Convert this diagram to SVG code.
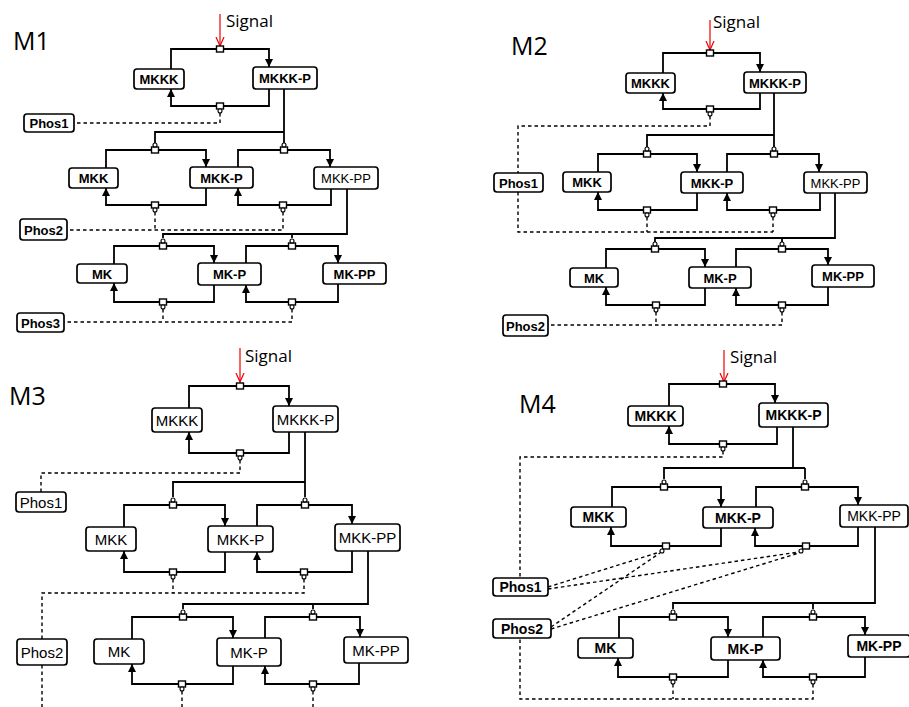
<svg xmlns="http://www.w3.org/2000/svg" width="909" height="707" viewBox="0 0 909 707">
<defs>
<style>
.box{fill:#fff;stroke:#000;stroke-width:1.7}
.lb{font-family:"Liberation Sans",Arial,sans-serif;font-size:13px;font-weight:bold;text-anchor:middle;fill:#000}
.lb3{font-family:"Liberation Sans",Arial,sans-serif;font-size:15px;text-anchor:middle;fill:#000}
.lb4{font-family:"Liberation Sans",Arial,sans-serif;font-size:14px;font-weight:bold;text-anchor:middle;fill:#000}
.nw{font-weight:normal}
.ttl{font-family:"Open Sans","Liberation Sans",sans-serif;font-size:25px;fill:#000}
.sg{font-family:"Open Sans","Liberation Sans",sans-serif;font-size:17px;fill:#000}
.ln{fill:none;stroke:#000;stroke-width:1.8}
.ar{fill:none;stroke:#000;stroke-width:1.8;marker-end:url(#ah)}
.ds{fill:none;stroke:#000;stroke-width:1.4;stroke-dasharray:3.5 3}
.sq{fill:#fff;stroke:#000;stroke-width:1.4}
.ci{fill:#fff;stroke:#000;stroke-width:1.1}
.red{stroke:#e00;stroke-width:1.2;fill:none;marker-end:url(#rh)}
</style>
<marker id="ah" markerUnits="userSpaceOnUse" markerWidth="8" markerHeight="8" refX="8" refY="4" orient="auto">
<path d="M0,0 L8,4 L0,8 z" fill="#000"/>
</marker>
<marker id="rh" markerUnits="userSpaceOnUse" markerWidth="10" markerHeight="10" refX="9" refY="5" orient="auto">
<path d="M0,1 L9,5 L0,9" fill="none" stroke="#e00" stroke-width="1.2"/>
</marker>
<rect id="s" class="sq" x="-3.5" y="-3" width="7" height="6"/>
<circle id="c" class="ci" r="2"/>
</defs>
<rect width="909" height="707" fill="#fff"/>

<!-- ===== M1 ===== -->
<g id="M1">
<text class="ttl" x="13" y="50">M1</text>
<text class="sg" x="226" y="27">Signal</text>
<g id="m1-connectors">
<line class="red" x1="220" y1="14" x2="220" y2="46"/>
<path class="ar" d="M171,69 V49 H269 V67"/>
<path class="ar" d="M269,89 V106 H171 V89"/>
<path class="ds" d="M220,113 V123 H74"/>
<path class="ln" d="M284,89 V143 M284,132 H155 V143"/>
<path class="ar" d="M106,168 V150 H206 V167"/>
<path class="ar" d="M238,167 V150 H330 V167"/>
<path class="ar" d="M206,188 V205 H106 V188"/>
<path class="ar" d="M331,189 V205 H238 V188"/>
<path class="ds" d="M155,212 V230 M283,212 V230 H67"/>
<path class="ln" d="M347,189 V234 H163 V238 M292,234 V238"/>
<path class="ar" d="M114,264 V246 H214 V263"/>
<path class="ar" d="M246,263 V246 H338 V263"/>
<path class="ar" d="M214,285 V302 H114 V283"/>
<path class="ar" d="M338,284 V302 H246 V285"/>
<path class="ds" d="M163,309 V322 M292,309 V322 H64"/>
<use href="#s" x="220" y="49"/>
<use href="#s" x="220" y="106"/><use href="#c" x="220" y="111"/>
<use href="#s" x="155" y="150"/><use href="#c" x="155" y="145"/>
<use href="#s" x="284" y="150"/><use href="#c" x="284" y="145"/>
<use href="#s" x="155" y="205"/><use href="#c" x="155" y="210"/>
<use href="#s" x="283" y="205"/><use href="#c" x="283" y="210"/>
<use href="#s" x="163" y="246"/><use href="#c" x="163" y="241"/>
<use href="#s" x="292" y="246"/><use href="#c" x="292" y="241"/>
<use href="#s" x="163" y="302"/><use href="#c" x="163" y="307"/>
<use href="#s" x="292" y="302"/><use href="#c" x="292" y="307"/>
</g>
<g id="m1-mkkk"><rect class="box" x="134" y="69" width="50" height="20" rx="3"/><text class="lb" x="159" y="84">MKKK</text></g>
<g id="m1-mkkkp"><rect class="box" x="253" y="67" width="64" height="22" rx="3"/><text class="lb" x="285" y="83">MKKK-P</text></g>
<g id="m1-phos1"><rect class="box" x="24" y="114" width="50" height="18" rx="3"/><text class="lb" x="49" y="128">Phos1</text></g>
<g id="m1-mkk"><rect class="box" x="69" y="168" width="49" height="20" rx="3"/><text class="lb" x="93.5" y="183">MKK</text></g>
<g id="m1-mkkp"><rect class="box" x="190" y="167" width="63" height="21" rx="3"/><text class="lb" x="221.5" y="182.5">MKK-P</text></g>
<g id="m1-mkkpp"><rect class="box" x="314" y="167" width="64" height="22" rx="3"/><text class="lb nw" x="346" y="183">MKK-PP</text></g>
<g id="m1-phos2"><rect class="box" x="20" y="219" width="47" height="21" rx="3"/><text class="lb" x="43.5" y="234.5">Phos2</text></g>
<g id="m1-mk"><rect class="box" x="77" y="264" width="50" height="19" rx="3"/><text class="lb" x="102" y="278.5">MK</text></g>
<g id="m1-mkp"><rect class="box" x="198" y="263" width="63" height="22" rx="3"/><text class="lb" x="229.5" y="279">MK-P</text></g>
<g id="m1-mkpp"><rect class="box" x="323" y="263" width="63" height="21" rx="3"/><text class="lb" x="354.5" y="278.5">MK-PP</text></g>
<g id="m1-phos3"><rect class="box" x="17" y="313" width="47" height="19" rx="3"/><text class="lb" x="40.5" y="327.5">Phos3</text></g>
</g>

<!-- ===== M2 ===== -->
<g id="M2">
<text class="ttl" x="511" y="55">M2</text>
<text class="sg" x="713" y="28">Signal</text>
<g id="m2-connectors">
<line class="red" x1="710" y1="20" x2="710" y2="50"/>
<path class="ar" d="M663,73 V53 H760 V72"/>
<path class="ar" d="M760,93 V109 H663 V93"/>
<path class="ds" d="M710,116 V126 H518 V173 M518,192 V232 H773 M647,217 V232 M773,217 V232"/>
<path class="ln" d="M774,93 V147 M774,135 H647 V147"/>
<path class="ar" d="M598,172 V154 H697 V172"/>
<path class="ar" d="M727,172 V154 H819 V172"/>
<path class="ar" d="M697,193 V210 H598 V192"/>
<path class="ar" d="M820,193 V210 H727 V193"/>
<path class="ln" d="M835,193 V238 H655 V242 M782,238 V242"/>
<path class="ar" d="M606,268 V249 H705 V267"/>
<path class="ar" d="M736,267 V249 H828 V265"/>
<path class="ar" d="M705,288 V305 H606 V287"/>
<path class="ar" d="M828,287 V305 H736 V288"/>
<path class="ds" d="M656,312 V325 M782,312 V325 H548"/>
<use href="#s" x="710" y="53"/>
<use href="#s" x="710" y="109"/><use href="#c" x="710" y="114"/>
<use href="#s" x="647" y="154"/><use href="#c" x="647" y="149"/>
<use href="#s" x="774" y="154"/><use href="#c" x="774" y="149"/>
<use href="#s" x="647" y="210"/><use href="#c" x="647" y="215"/>
<use href="#s" x="773" y="210"/><use href="#c" x="773" y="215"/>
<use href="#s" x="655" y="249"/><use href="#c" x="655" y="244"/>
<use href="#s" x="782" y="249"/><use href="#c" x="782" y="244"/>
<use href="#s" x="656" y="305"/><use href="#c" x="656" y="310"/>
<use href="#s" x="782" y="305"/><use href="#c" x="782" y="310"/>
</g>
<g id="m2-mkkk"><rect class="box" x="626" y="73" width="49" height="20" rx="3"/><text class="lb" x="650.5" y="88">MKKK</text></g>
<g id="m2-mkkkp"><rect class="box" x="744" y="72" width="62" height="21" rx="3"/><text class="lb" x="775" y="87.5">MKKK-P</text></g>
<g id="m2-phos1"><rect class="box" x="494" y="173" width="49" height="19" rx="3"/><text class="lb" x="518.5" y="187.5">Phos1</text></g>
<g id="m2-mkk"><rect class="box" x="563" y="172" width="48" height="20" rx="3"/><text class="lb" x="587" y="187">MKK</text></g>
<g id="m2-mkkp"><rect class="box" x="681" y="172" width="62" height="21" rx="3"/><text class="lb" x="712" y="187.5">MKK-P</text></g>
<g id="m2-mkkpp"><rect class="box" x="804" y="172" width="63" height="21" rx="3"/><text class="lb nw" x="835.5" y="187.5">MKK-PP</text></g>
<g id="m2-mk"><rect class="box" x="570" y="268" width="48" height="19" rx="3"/><text class="lb" x="594" y="282.5">MK</text></g>
<g id="m2-mkp"><rect class="box" x="689" y="267" width="62" height="21" rx="3"/><text class="lb" x="720" y="282.5">MK-P</text></g>
<g id="m2-mkpp"><rect class="box" x="812" y="265" width="62" height="22" rx="3"/><text class="lb" x="843" y="281">MK-PP</text></g>
<g id="m2-phos2"><rect class="box" x="503" y="315" width="45" height="21" rx="3"/><text class="lb" x="525.5" y="330.5">Phos2</text></g>
</g>

<!-- ===== M3 ===== -->
<g id="M3">
<text class="ttl" x="9" y="405">M3</text>
<text class="sg" x="245" y="362">Signal</text>
<g id="m3-connectors">
<line class="red" x1="240" y1="348" x2="240" y2="382"/>
<path class="ar" d="M189,408 V386 H289 V406"/>
<path class="ar" d="M289,432 V453 H189 V432"/>
<path class="ds" d="M240,460 V473 H41 V492"/>
<path class="ln" d="M305,432 V497 M305,482 H173 V497"/>
<path class="ar" d="M124,527 V505 H225 V526"/>
<path class="ar" d="M257,526 V505 H352 V524"/>
<path class="ar" d="M225,552 V572 H124 V551"/>
<path class="ar" d="M352,551 V572 H257 V552"/>
<path class="ds" d="M173,579 V593 M304,579 V593 H42 V639 M42,665 V707"/>
<path class="ln" d="M368,551 V604 H183 V609 M313,604 V609"/>
<path class="ar" d="M132,639 V617 H233 V638"/>
<path class="ar" d="M265,638 V617 H360 V637"/>
<path class="ar" d="M233,666 V684 H132 V664"/>
<path class="ar" d="M359,663 V684 H265 V666"/>
<path class="ds" d="M182,691 V707 M313,691 V707"/>
<use href="#s" x="240" y="386"/>
<use href="#s" x="240" y="453"/><use href="#c" x="240" y="458"/>
<use href="#s" x="173" y="505"/><use href="#c" x="173" y="500"/>
<use href="#s" x="305" y="505"/><use href="#c" x="305" y="500"/>
<use href="#s" x="173" y="572"/><use href="#c" x="173" y="577"/>
<use href="#s" x="304" y="572"/><use href="#c" x="304" y="577"/>
<use href="#s" x="183" y="617"/><use href="#c" x="183" y="612"/>
<use href="#s" x="313" y="617"/><use href="#c" x="313" y="612"/>
<use href="#s" x="182" y="684"/><use href="#c" x="182" y="689"/>
<use href="#s" x="313" y="684"/><use href="#c" x="313" y="689"/>
</g>
<g id="m3-mkkk"><rect class="box" x="152" y="408" width="50" height="24" rx="3"/><text class="lb3" x="177" y="425.5">MKKK</text></g>
<g id="m3-mkkkp"><rect class="box" x="273" y="406" width="65" height="26" rx="3"/><text class="lb3" x="305.5" y="424.5">MKKK-P</text></g>
<g id="m3-phos1"><rect class="box" x="16" y="492" width="50" height="20" rx="3"/><text class="lb3" x="41" y="507.5">Phos1</text></g>
<g id="m3-mkk"><rect class="box" x="86" y="527" width="50" height="24" rx="3"/><text class="lb3" x="111" y="544.5">MKK</text></g>
<g id="m3-mkkp"><rect class="box" x="208" y="526" width="65" height="26" rx="3"/><text class="lb3" x="240.5" y="544.5">MKK-P</text></g>
<g id="m3-mkkpp"><rect class="box" x="335" y="524" width="65" height="27" rx="3"/><text class="lb3" x="367.5" y="543">MKK-PP</text></g>
<g id="m3-phos2"><rect class="box" x="17" y="639" width="50" height="26" rx="3"/><text class="lb3" x="42" y="657.5">Phos2</text></g>
<g id="m3-mk"><rect class="box" x="94" y="639" width="50" height="25" rx="3"/><text class="lb3" x="119" y="657">MK</text></g>
<g id="m3-mkp"><rect class="box" x="217" y="638" width="64" height="28" rx="3"/><text class="lb3" x="249" y="657.5">MK-P</text></g>
<g id="m3-mkpp"><rect class="box" x="344" y="637" width="64" height="26" rx="3"/><text class="lb3" x="376" y="655.5">MK-PP</text></g>
</g>

<!-- ===== M4 ===== -->
<g id="M4">
<text class="ttl" x="519" y="413">M4</text>
<text class="sg" x="730" y="363">Signal</text>
<g id="m4-connectors">
<line class="red" x1="724" y1="350" x2="724" y2="382"/>
<path class="ar" d="M669,406 V384 H775 V403"/>
<path class="ar" d="M777,427 V444 H669 V426"/>
<path class="ds" d="M723,451 V457 H520 V578"/>
<path class="ln" d="M793,427 V468 M805,468 H664 V479 M805,468 V479"/>
<path class="ar" d="M612,507 V487 H721 V507"/>
<path class="ar" d="M756,507 V487 H858 V505"/>
<path class="ar" d="M721,528 V546 H611 V527"/>
<path class="ar" d="M858,527 V546 H755 V528"/>
<path class="ds" d="M548,587 L660,552 M548,589 L799,552 M551,627 L660,553 M551,629 L799,553"/>
<path class="ln" d="M875,527 V603 H673 V609 M813,603 V609"/>
<path class="ar" d="M619,638 V617 H728 V637"/>
<path class="ar" d="M763,637 V617 H865 V635"/>
<path class="ar" d="M728,660 V677 H618 V658"/>
<path class="ar" d="M865,657 V677 H763 V660"/>
<path class="ds" d="M673,684 V699 M813,684 V699 H520 V638"/>
<use href="#s" x="723" y="384"/>
<use href="#s" x="723" y="444"/><use href="#c" x="723" y="449"/>
<use href="#s" x="664" y="487"/><use href="#c" x="664" y="482"/>
<use href="#s" x="805" y="487"/><use href="#c" x="805" y="482"/>
<use href="#s" x="666" y="546"/><use href="#c" x="662" y="551"/>
<use href="#s" x="806" y="546"/><use href="#c" x="801" y="551"/>
<use href="#s" x="673" y="617"/><use href="#c" x="673" y="612"/>
<use href="#s" x="813" y="617"/><use href="#c" x="813" y="612"/>
<use href="#s" x="673" y="677"/><use href="#c" x="673" y="682"/>
<use href="#s" x="813" y="677"/><use href="#c" x="813" y="682"/>
</g>
<g id="m4-mkkk"><rect class="box" x="628" y="406" width="55" height="20" rx="3"/><text class="lb4" x="655.5" y="421">MKKK</text></g>
<g id="m4-mkkkp"><rect class="box" x="759" y="403" width="69" height="24" rx="3"/><text class="lb4" x="793.5" y="420">MKKK-P</text></g>
<g id="m4-mkk"><rect class="box" x="571" y="507" width="55" height="20" rx="3"/><text class="lb4" x="598.5" y="522">MKK</text></g>
<g id="m4-mkkp"><rect class="box" x="703" y="507" width="70" height="21" rx="3"/><text class="lb4" x="738" y="522.5">MKK-P</text></g>
<g id="m4-mkkpp"><rect class="box" x="840" y="505" width="68" height="22" rx="3"/><text class="lb4 nw" x="874" y="521">MKK-PP</text></g>
<g id="m4-phos1"><rect class="box" x="493" y="578" width="55" height="18" rx="3"/><text class="lb4" x="520.5" y="592">Phos1</text></g>
<g id="m4-phos2"><rect class="box" x="493" y="619" width="58" height="19" rx="3"/><text class="lb4" x="522" y="633.5">Phos2</text></g>
<g id="m4-mk"><rect class="box" x="578" y="638" width="55" height="20" rx="3"/><text class="lb4" x="605.5" y="653">MK</text></g>
<g id="m4-mkp"><rect class="box" x="711" y="637" width="69" height="23" rx="3"/><text class="lb4" x="745.5" y="653.5">MK-P</text></g>
<g id="m4-mkpp"><rect class="box" x="848" y="635" width="62" height="22" rx="3"/><text class="lb4" x="879" y="651">MK-PP</text></g>
</g>
</svg>
